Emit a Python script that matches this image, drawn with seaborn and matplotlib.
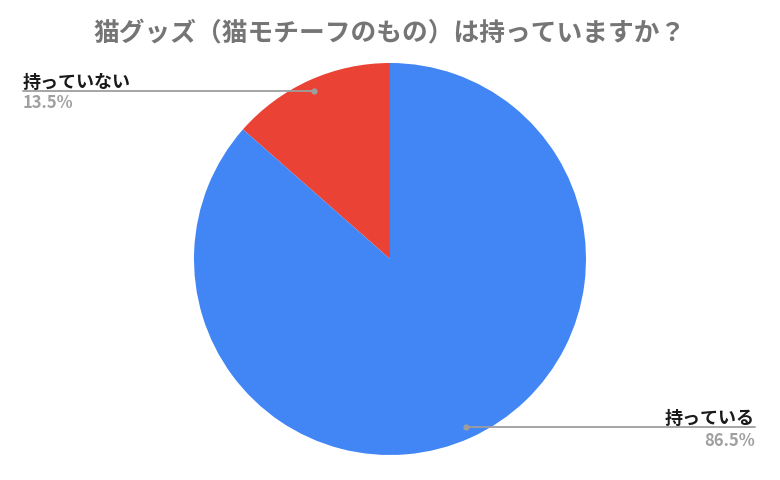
import numpy as np
import matplotlib
matplotlib.use("Agg")
import matplotlib.pyplot as plt
import seaborn as sns
from matplotlib.lines import Line2D

sns.set_theme(style="white")
plt.rcParams['font.family'] = ['Noto Sans CJK JP', 'DejaVu Sans']

#%% data
title = "猫グッズ（猫モチーフのもの）は持っていますか？"
labels = ["持っていない", "持っている"]
values = [13.5, 86.5]
colors = ["#EA4335", "#4285F4"]

#%% figure
W, H = 780, 481
fig = plt.figure(figsize=(W / 100, H / 100), dpi=100)
fig.patch.set_facecolor("white")

# pie axes placed in pixel box
cx, cy, r = 390, 260, 196
ax = fig.add_axes([(cx - r) / W, (H - cy - r) / H, 2 * r / W, 2 * r / H])
ax.pie(values, colors=colors, startangle=90, counterclock=True,
       wedgeprops=dict(linewidth=0))
ax.set_xlim(-1, 1)
ax.set_ylim(-1, 1)
ax.set_aspect("equal")
ax.axis("off")

fig.text(0.5, 1 - 33 / H, title, ha="center", va="center",
         fontsize=18.5, fontweight="bold", color="#757575")

def px(x, y):
    return x / W, 1 - y / H

#leader dots at 0.94 radius along each wedge's middle angle
angles = 90 + 360 * (np.cumsum(values) - np.array(values) / 2) / 100
dots = []
for a in angles:
    dx, dy = 0.94 * np.cos(np.radians(a)), 0.94 * np.sin(np.radians(a))
    fx, fy = fig.transFigure.inverted().transform(ax.transData.transform((dx, dy)))
    dots.append((fx, fy))

line_col = "#9e9e9e"
# left label
fx, fy = dots[0]
fig.add_artist(Line2D([px(23, 0)[0], fx], [fy, fy], color=line_col, lw=1.3))
fig.add_artist(Line2D([fx], [fy], marker="o", ms=3.5, color=line_col, lw=0))
fig.text(*px(23, 82), labels[0], ha="left", va="center",
         fontsize=13, fontweight="bold", color="#1a1a1a")
fig.text(*px(23, 103), f"{values[0]}%", ha="left", va="center",
         fontsize=12, fontweight="bold", color="#a0a0a0")

# right label
fx, fy = dots[1]
fig.add_artist(Line2D([fx, px(755, 0)[0]], [fy, fy], color=line_col, lw=1.3))
fig.add_artist(Line2D([fx], [fy], marker="o", ms=3.5, color=line_col, lw=0))
fig.text(*px(755, 418), labels[1], ha="right", va="center",
         fontsize=13, fontweight="bold", color="#1a1a1a")
fig.text(*px(755, 441), f"{values[1]}%", ha="right", va="center",
         fontsize=12, fontweight="bold", color="#a0a0a0")

fig.savefig("out.png", dpi=100, facecolor="white")
